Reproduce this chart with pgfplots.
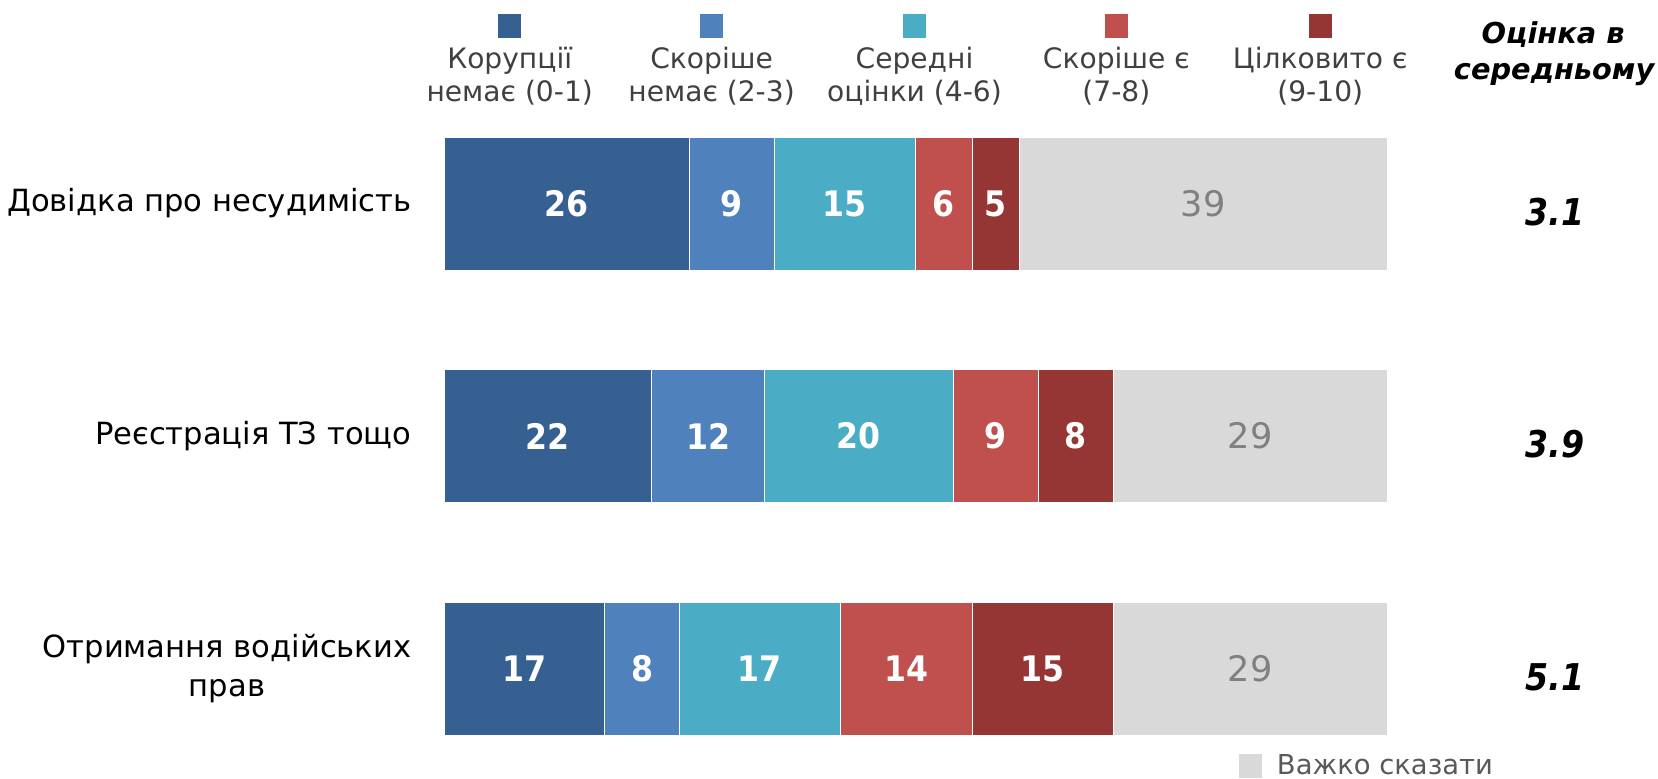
\documentclass[border=0pt]{standalone}
\usepackage{fontspec}
\setmainfont{DejaVu Sans}
\newfontfamily\cond{DejaVu Sans Condensed}
\usepackage{pgfplots}
\usepackage{pgfplotstable}
\pgfplotsset{compat=1.18}
\definecolor{c1}{HTML}{376092}
\definecolor{c2}{HTML}{4F81BD}
\definecolor{c3}{HTML}{4BACC6}
\definecolor{c4}{HTML}{C0504D}
\definecolor{c5}{HTML}{963634}
\definecolor{c6}{HTML}{D9D9D9}
\definecolor{lgtext}{HTML}{404040}
\definecolor{dktext}{HTML}{595959}
\definecolor{numgray}{HTML}{808080}
\pgfplotstableread{
row a b c d e f avg
0 26 9 15 6 5 39 3.1
1 22 12 20 9 8 29 3.9
2 17 8 17 14 15 29 5.1
}\data
\pgfplotsset{
  geom/.style={
    at={(4.44cm,0.3975cm)}, anchor=south west,
    scale only axis, width=9.43cm, height=6.045cm,
    xmin=0, xmax=100, ymin=-0.3, ymax=2.3, y dir=reverse,
    clip=false,
  },
  seg/.style={fill=#1, draw=white, line width=0.2pt},
  wlab/.style={draw=none, nodes near coords, point meta=explicit symbolic,
    every node near coord/.append style={anchor=center, text=white,
      font=\cond\bfseries\fontsize{10}{12}\selectfont}},
}
\begin{document}
\begin{tikzpicture}
\useasboundingbox (0,0) rectangle (16.58cm,7.78cm);
\begin{axis}[geom,
  xbar stacked, bar width=1.33cm,
  axis line style={draw=none}, tick style={draw=none},
  xtick=\empty, ytick={0,1,2},
  yticklabels={Довідка про несудимість, Реєстрація ТЗ тощо, {Отримання водійських\\прав}},
  yticklabel style={align=center, inner sep=0pt, xshift=-0.32cm, text=black,
    font=\fontsize{8.7}{11.2}\selectfont},
]
\addplot[seg=c1] table[x=a, y=row]{\data};
\addplot[seg=c2] table[x=b, y=row]{\data};
\addplot[seg=c3] table[x=c, y=row]{\data};
\addplot[seg=c4] table[x=d, y=row]{\data};
\addplot[seg=c5] table[x=e, y=row]{\data};
\addplot[seg=c6] table[x=f, y=row]{\data};
\end{axis}
\begin{axis}[geom, hide axis]
\addplot[wlab] table[x expr={\thisrow{a}/2}, y=row, meta=a]{\data};
\addplot[wlab] table[x expr={\thisrow{a}+\thisrow{b}/2}, y=row, meta=b]{\data};
\addplot[wlab] table[x expr={\thisrow{a}+\thisrow{b}+\thisrow{c}/2}, y=row, meta=c]{\data};
\addplot[wlab] table[x expr={\thisrow{a}+\thisrow{b}+\thisrow{c}+\thisrow{d}/2}, y=row, meta=d]{\data};
\addplot[wlab] table[x expr={\thisrow{a}+\thisrow{b}+\thisrow{c}+\thisrow{d}+\thisrow{e}/2}, y=row, meta=e]{\data};
\addplot[draw=none, nodes near coords, point meta=explicit symbolic,
  every node near coord/.append style={anchor=center, text=numgray,
    font=\fontsize{10}{12}\selectfont}]
  table[x expr={\thisrow{a}+\thisrow{b}+\thisrow{c}+\thisrow{d}+\thisrow{e}+\thisrow{f}/2}, y=row, meta=f]{\data};
\addplot[draw=none, nodes near coords, point meta=explicit symbolic,
  every node near coord/.append style={anchor=center, text=black, yshift=-0.085cm,
    font=\cond\bfseries\itshape\fontsize{10.5}{12}\selectfont}]
  table[x expr=117.8, y=row, meta=avg]{\data};
\end{axis}
\begin{scope}[x=0.01cm, y=-0.01cm, shift={(0cm,7.78cm)}]
  \fill[c1] (498.5,14) rectangle (521.5,38);
  \fill[c2] (700.5,14) rectangle (723.5,38);
  \fill[c3] (903.5,14) rectangle (926.5,38);
  \fill[c4] (1105.5,14) rectangle (1128.5,38);
  \fill[c5] (1309.5,14) rectangle (1332.5,38);
  \begin{scope}[every node/.style={anchor=base, inner sep=0pt, text=lgtext, font=\fontsize{8}{9.7}\selectfont}]
    \node at (510,69) {Корупції};
    \node at (510,102) {немає (0-1)};
    \node at (712,69) {Скоріше};
    \node at (712,102) {немає (2-3)};
    \node at (915,69) {Середні};
    \node at (915,102) {оцінки (4-6)};
    \node at (1117,69) {Скоріше є};
    \node at (1117,102) {(7-8)};
    \node at (1321,69) {Цілковито є};
    \node at (1321,102) {(9-10)};
  \end{scope}
  \begin{scope}[every node/.style={anchor=base, inner sep=0pt, text=black, font=\bfseries\itshape\fontsize{8.2}{9.7}\selectfont}]
    \node at (1554,44) {Оцінка в};
    \node at (1555,80) {середньому};
  \end{scope}
  \fill[c6] (1240,754) rectangle (1263,778);
  \node[anchor=base west, inner sep=0pt, text=dktext, font=\fontsize{7.8}{9}\selectfont] at (1277,775) {Важко сказати};
\end{scope}
\end{tikzpicture}
\end{document}
